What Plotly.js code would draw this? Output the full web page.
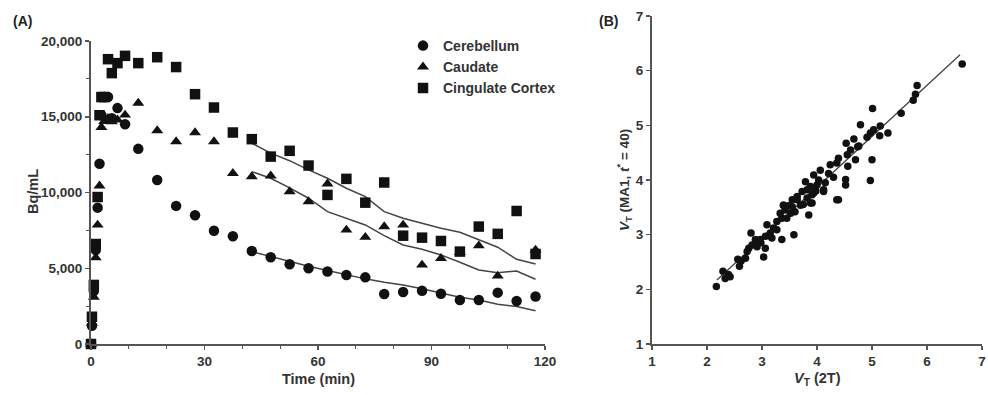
<!DOCTYPE html>
<html><head><meta charset="utf-8">
<script src="https://cdn.plot.ly/plotly-3.0.1.min.js"></script>
<style>html,body{margin:0;padding:0;background:#fff}#chart{width:988px;height:395px}</style>
</head><body><div id="chart"></div>
<script>
// Panel A: time-activity curves
const timeMin = [0, 0.25, 0.75, 1.25, 1.75, 2.25, 2.75, 3.5, 4.5, 5.5, 7, 9,
  12.5, 17.5, 22.5, 27.5, 32.5, 37.5, 42.5, 47.5, 52.5, 57.5, 62.5, 67.5, 72.5,
  77.5, 82.5, 87.5, 92.5, 97.5, 102.5, 107.5, 112.5, 117.5];
const cerebellum = [0, 1200, 3500, 6200, 9000, 11900, 15100, 16300, 16300, 14900, 15570, 14510,
  12880, 10830, 9115, 8500, 7480, 7110, 6140, 5730, 5260, 5000, 4780, 4560, 4400,
  3300, 3430, 3520, 3320, 2900, 2900, 3390, 2840, 3130];
const caudate = [0, 1400, 3100, 5700, 7860, 10440, 14300, 14700, 14900, 14680, 14800, 15120,
  15900, 14090, 13360, 13960, 13360, 11270, 11050, 11100, 10060, 9400, 10570, 7530, 7050,
  7750, 7860, 5220, 5660, 6050, 6490, 4490, null, 6210];
const cingulate = [0, 1800, 3900, 6600, 9700, 15100, 16300, 16300, 18800, 17880, 18540, 19020,
  18540, 18930, 18280, 16490, 15610, 13960, 13520, 12370, 12750, 11780, 9840, 10900, 9330,
  10660, 7150, 7020, 6800, 6100, 7750, 7270, 8780, 5940];
// model fits (from 42.5 min)
const fitTime = [42.5, 47.5, 52.5, 57.5, 62.5, 67.5, 72.5, 77.5, 82.5, 87.5, 92.5, 97.5, 102.5, 107.5, 112.5, 117.5];
const cerebellumFit = [6100, 5780, 5430, 5130, 4850, 4560, 4300, 4080, 3900, 3650, 3380, 3080, 2900, 2620, 2480, 2200];
const caudateFit = [11380, 10940, 10300, 9620, 8740, 8300, 7860, 7150, 6540, 6250, 5880, 5400, 4890, 4710, 4820, 4270];
const cingulateFit = [13250, 12600, 12100, 11490, 10940, 10280, 9730, 8740, 8300, 7970, 7640, 7380, 6870, 6390, 5590, 5280];

// Panel B: VT (2T) vs VT (MA1)
const vt2T = [6.64, 5.82, 5.79, 5.75, 5.53, 5.01, 4.79, 5.15, 5.29, 5.14, 4.97, 4.91, 4.67, 4.76, 5.03,
  5.0, 4.97, 4.53, 4.74, 4.61, 4.55, 4.39, 4.70, 4.56, 4.36, 4.24, 4.06, 4.21, 3.94, 4.03, 4.52, 4.52,
  3.79, 3.88, 4.12, 3.73, 3.94, 3.64, 3.55, 3.82, 4.39, 3.91, 3.39, 3.48,
  2.17, 2.29, 2.39, 2.33, 2.42, 2.59, 2.56, 2.70, 2.73, 2.76, 2.82, 2.80, 2.91, 3.03, 2.88, 2.97, 3.06,
  3.15, 3.09, 3.21, 3.36, 3.58, 3.27, 3.36, 3.33, 3.42, 3.39, 3.52, 3.55, 3.64, 3.70, 3.85, 3.82, 3.91,
  3.88, 4.00, 4.12, 4.36, 3.18, 3.06, 3.27, 3.45, 3.60, 3.75, 3.98, 4.15, 4.30, 2.62, 2.98, 3.12];
const vtMA1 = [6.12, 5.73, 5.57, 5.46, 5.22, 5.31, 5.01, 4.99, 4.86, 4.81, 4.86, 4.78, 4.75, 4.62, 4.92,
  4.37, 3.99, 4.67, 4.61, 4.55, 4.46, 4.40, 4.37, 4.25, 4.31, 4.28, 4.18, 4.12, 4.09, 4.00, 4.01, 3.91,
  3.97, 3.88, 3.82, 3.79, 3.76, 3.70, 3.64, 3.67, 3.64, 3.58, 3.54, 3.53,
  2.05, 2.33, 2.27, 2.20, 2.23, 2.42, 2.55, 2.57, 2.69, 2.75, 2.81, 3.03, 2.78, 2.59, 2.91, 2.91, 2.97,
  3.03, 3.18, 3.12, 2.91, 3.00, 3.24, 3.30, 3.39, 3.45, 3.54, 3.39, 3.51, 3.64, 3.54, 3.36, 3.82, 3.73,
  3.58, 3.91, 3.79, 3.64, 2.94, 2.75, 3.09, 3.30, 3.42, 3.55, 3.80, 3.95, 4.05, 2.52, 2.85, 2.98];
const regX = [2.18, 6.6];
const regY = [2.17, 6.29];

const ink = '#111';
const lineGray = '#444';
const axisGray = '#555';
const textGray = '#333';
const FONT = 'Liberation Sans, Arial, sans-serif';

const traces = [
  {x: fitTime, y: cerebellumFit, mode: 'lines', line: {color: lineGray, width: 1.5}, showlegend: false, xaxis: 'x', yaxis: 'y', hoverinfo: 'skip'},
  {x: fitTime, y: caudateFit, mode: 'lines', line: {color: lineGray, width: 1.5}, showlegend: false, xaxis: 'x', yaxis: 'y', hoverinfo: 'skip'},
  {x: fitTime, y: cingulateFit, mode: 'lines', line: {color: lineGray, width: 1.5}, showlegend: false, xaxis: 'x', yaxis: 'y', hoverinfo: 'skip'},
  {x: timeMin, y: cerebellum, name: 'Cerebellum', mode: 'markers', cliponaxis: false,
   marker: {symbol: 'circle', size: 10.5, color: ink}, xaxis: 'x', yaxis: 'y'},
  {x: timeMin, y: caudate, name: 'Caudate', mode: 'markers', cliponaxis: false,
   marker: {symbol: 'triangle-up', size: 10.5, color: ink}, xaxis: 'x', yaxis: 'y'},
  {x: timeMin, y: cingulate, name: 'Cingulate Cortex', mode: 'markers', cliponaxis: false,
   marker: {symbol: 'square', size: 10.5, color: ink}, xaxis: 'x', yaxis: 'y'},
  {x: regX, y: regY, mode: 'lines', line: {color: lineGray, width: 1.3}, showlegend: false, xaxis: 'x2', yaxis: 'y2', hoverinfo: 'skip'},
  {x: vt2T, y: vtMA1, mode: 'markers', marker: {symbol: 'circle', size: 7.5, color: ink}, showlegend: false, xaxis: 'x2', yaxis: 'y2'}
];

const W = 988, H = 395;
const px = v => v / W;
const py = v => 1 - v / H;

const axisCommon = {
  showline: true, linecolor: axisGray, linewidth: 2, ticks: 'outside', ticklen: 4, tickwidth: 1.5,
  tickcolor: axisGray, showgrid: false, zeroline: false, fixedrange: true,
  tickfont: {family: FONT, size: 13.5, color: textGray, weight: 'bold'}
};

const layout = {
  width: W, height: H,
  margin: {l: 0, r: 0, t: 0, b: 0},
  paper_bgcolor: '#fff', plot_bgcolor: '#fff',
  font: {family: FONT, color: textGray, weight: 'bold'},
  xaxis: Object.assign({}, axisCommon, {
    domain: [px(91), px(545)], range: [0, 120], anchor: 'y',
    tickmode: 'linear', tick0: 0, dtick: 30,
    minor: {dtick: 10, ticks: 'outside', ticklen: 3, tickcolor: axisGray, tickwidth: 1}
  }),
  yaxis: Object.assign({}, axisCommon, {
    domain: [1 - 344 / H, 1 - 41 / H], range: [0, 20000], anchor: 'x',
    tickmode: 'linear', tick0: 0, dtick: 5000, tickformat: ',d',
    minor: {dtick: 2500, ticks: 'outside', ticklen: 3, tickcolor: axisGray, tickwidth: 1}
  }),
  xaxis2: Object.assign({}, axisCommon, {
    domain: [px(652), px(982)], range: [1, 7], anchor: 'y2',
    tickmode: 'linear', tick0: 1, dtick: 1
  }),
  yaxis2: Object.assign({}, axisCommon, {
    domain: [1 - 344 / H, 1 - 16 / H], range: [1, 7], anchor: 'x2',
    tickmode: 'linear', tick0: 1, dtick: 1
  }),
  showlegend: true,
  legend: {
    x: px(403), y: py(30), xanchor: 'left', yanchor: 'top',
    bgcolor: 'rgba(0,0,0,0)', borderwidth: 0, tracegroupgap: 0,
    font: {family: FONT, size: 14, color: textGray, weight: 'bold'}
  },
  annotations: [
    {text: '(A)', x: px(11), y: py(21), xref: 'paper', yref: 'paper', xanchor: 'left', yanchor: 'middle', showarrow: false,
     font: {family: FONT, size: 14, color: '#222', weight: 'bold'}},
    {text: '(B)', x: px(597), y: py(21), xref: 'paper', yref: 'paper', xanchor: 'left', yanchor: 'middle', showarrow: false,
     font: {family: FONT, size: 14, color: '#222', weight: 'bold'}},
    {text: 'Bq/mL', x: px(33), y: py(192), xref: 'paper', yref: 'paper', xanchor: 'center', yanchor: 'middle', showarrow: false, textangle: -90,
     font: {family: FONT, size: 14.5, color: textGray, weight: 'bold'}},
    {text: 'Time (min)', x: px(318), y: py(379), xref: 'paper', yref: 'paper', xanchor: 'center', yanchor: 'middle', showarrow: false,
     font: {family: FONT, size: 14.5, color: textGray, weight: 'bold'}},
    {text: '<i>V</i><sub>T</sub> (MA1, <i>t</i><sup>*</sup> = 40)', x: px(624), y: py(180), xref: 'paper', yref: 'paper', xanchor: 'center', yanchor: 'middle', showarrow: false, textangle: -90,
     font: {family: FONT, size: 13.5, color: textGray, weight: 'bold'}},
    {text: '<i>V</i><sub>T</sub> (2T)', x: px(817), y: py(379), xref: 'paper', yref: 'paper', xanchor: 'center', yanchor: 'middle', showarrow: false,
     font: {family: FONT, size: 14.5, color: textGray, weight: 'bold'}}
  ]
};

Plotly.newPlot('chart', traces, layout, {displayModeBar: false, staticPlot: true});
</script></body></html>
